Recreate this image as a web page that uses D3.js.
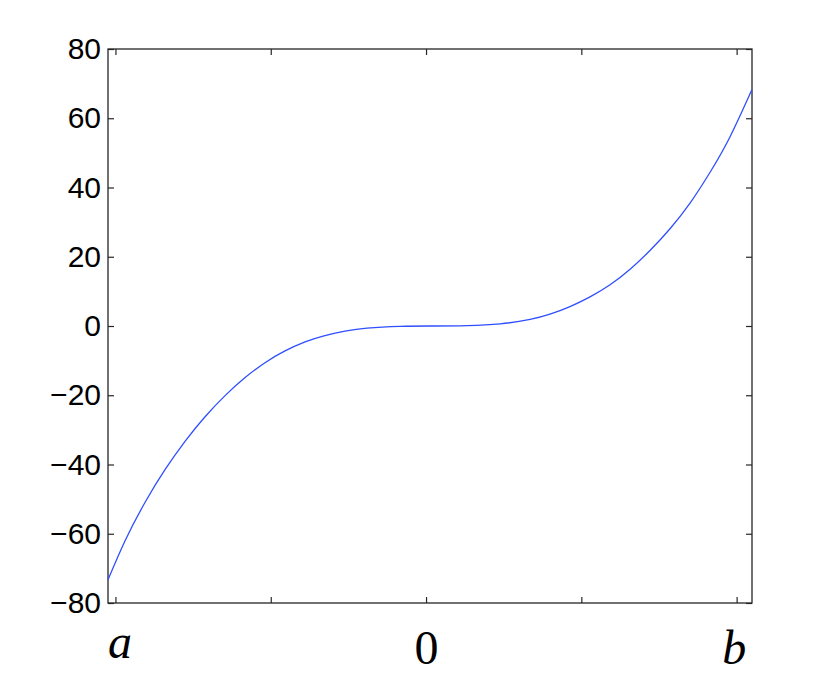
<!DOCTYPE html>
<html>
<head>
<meta charset="utf-8">
<script src="https://cdn.jsdelivr.net/npm/d3@7"></script>
<style>
    body { margin: 0; background: #fff; }
</style>
</head>
<body>
<div id="chart"></div>
<script>
// curve samples (x in tick units, a = -2, b = 2)
const xs = [-2.048, -1.938, -1.809, -1.681, -1.552, -1.423, -1.294, -1.165, -1.037, -0.908,
    -0.779, -0.663, -0.522, -0.380, -0.167, 0.045, 0.264, 0.477, 0.670, 0.798,
    0.927, 1.056, 1.185, 1.314, 1.442, 1.571, 1.700, 1.829, 1.957, 2.099];
const ys = [-73.3, -62.0, -50.9, -41.5, -33.3, -26.2, -20.1, -14.9, -10.6, -7.2,
    -4.6, -2.9, -1.5, -0.6, -0.1, 0.0, 0.1, 0.6, 1.9, 3.4,
    5.6, 8.4, 11.9, 16.4, 21.8, 28.1, 35.5, 44.4, 54.6, 68.3];
const xTicks = [-2, -1, 0, 1, 2];
const xTickLabels = ["a", "", "0", "", "b"];
const yTicks = [-80, -60, -40, -20, 0, 20, 40, 60, 80];

const width = 830, height = 679;
const margin = { top: 49, right: 78, bottom: 76, left: 108 };

const svg = d3.select("#chart").append("svg")
    .attr("width", width)
    .attr("height", height);

const x = d3.scaleLinear()
    .domain([xs[0], xs[xs.length - 1]])
    .range([margin.left, width - margin.right]);

const y = d3.scaleLinear()
    .domain([-80, 80])
    .range([height - margin.bottom, margin.top]);

const axisColor = "#262626";

// ticks point inwards, MATLAB style
const yLeft = svg.append("g")
    .attr("transform", `translate(${margin.left},0)`)
    .call(d3.axisLeft(y).tickValues(yTicks).tickSizeInner(-6).tickSizeOuter(0).tickPadding(7)
        .tickFormat(d => d < 0 ? "\u2212" + Math.abs(d) : d));
yLeft.select(".domain").remove();
yLeft.selectAll("text")
    .style("font-family", "'Liberation Sans', Arial, sans-serif")
    .style("font-size", "30px")
    .attr("fill", "#000");

const yRight = svg.append("g")
    .attr("transform", `translate(${width - margin.right},0)`)
    .call(d3.axisRight(y).tickValues(yTicks).tickSizeInner(-6).tickSizeOuter(0).tickFormat(""));
yRight.select(".domain").remove();

const xBottom = svg.append("g")
    .attr("transform", `translate(0,${height - margin.bottom})`)
    .call(d3.axisBottom(x).tickValues(xTicks).tickSizeInner(-6).tickSizeOuter(0)
        .tickFormat((d, i) => xTickLabels[i]));
xBottom.select(".domain").remove();
xBottom.selectAll("text")
    .attr("dy", null)
    .attr("y", (d, i) => i === 0 ? 55 : 61)
    .attr("dx", (d, i) => i === 0 ? 4 : (i === 4 ? -3 : 0))
    .style("font-family", "'Liberation Serif', 'DejaVu Serif', serif")
    .style("font-style", (d, i) => i === 2 ? "normal" : "italic")
    .style("font-size", "48px")
    .attr("fill", "#000");

const xTop = svg.append("g")
    .attr("transform", `translate(0,${margin.top})`)
    .call(d3.axisTop(x).tickValues(xTicks).tickSizeInner(-6).tickSizeOuter(0).tickFormat(""));
xTop.select(".domain").remove();

svg.selectAll(".tick line")
    .attr("stroke", axisColor)
    .attr("stroke-width", 1.2);

// box
svg.append("rect")
    .attr("x", margin.left)
    .attr("y", margin.top)
    .attr("width", width - margin.left - margin.right)
    .attr("height", height - margin.top - margin.bottom)
    .attr("fill", "none")
    .attr("stroke", axisColor)
    .attr("stroke-width", 1.3);

const points = xs.map((d, i) => [d, ys[i]]);

const line = d3.line()
    .x(d => x(d[0]))
    .y(d => y(d[1]))
    .curve(d3.curveNatural);

svg.append("path")
    .datum(points)
    .attr("d", line)
    .attr("fill", "none")
    .attr("stroke", "#2f4fff")
    .attr("stroke-width", 1.3);
</script>
</body>
</html>
